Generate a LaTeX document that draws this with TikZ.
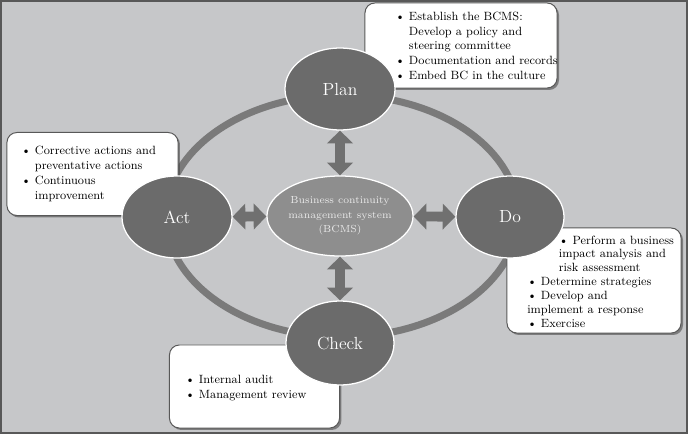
\documentclass[tikz,border=0pt]{standalone}
\usepackage{xcolor}
\usepackage{tikz}
\usetikzlibrary{shapes,arrows.meta,positioning,shadows}

\definecolor{bgGray}{HTML}{C6C7C9}
\definecolor{stageGray}{HTML}{6B6B6B}
\definecolor{hubGray}{HTML}{8E8E8E}
\definecolor{ringGray}{HTML}{7A7A7A}
\definecolor{linkGray}{HTML}{707070}
\definecolor{frameGray}{HTML}{585858}
\definecolor{hubText}{HTML}{EAEAEA}

\begin{document}
\begin{tikzpicture}[
    x=0.025cm, y=-0.025cm,
    stage/.style={ellipse, draw=white, line width=0.9pt, fill=stageGray, inner sep=0pt, minimum width=2.75cm, minimum height=2.05cm, text=white, font=\fontsize{12.5}{14}\selectfont},
    hub/.style={ellipse, draw=white, line width=0.9pt, fill=hubGray, inner sep=0pt, minimum width=2.75cm, minimum height=2.0cm, text=hubText, align=center, font=\fontsize{7.3}{10.3}\selectfont},
    notebox/.style={rectangle, draw=frameGray, line width=0.7pt, fill=white, rounded corners=7pt, drop shadow={shadow xshift=1.4pt, shadow yshift=-1.4pt, opacity=0.55, fill=black!75}},
    notetext/.style={anchor=west, inner sep=0pt, align=left, font=\fontsize{8.5}{10.6}\selectfont},
    link/.style={{Triangle[length=9pt,width=18pt]}-{Triangle[length=9pt,width=18pt]}, line width=7pt, draw=linkGray}
]
\useasboundingbox (0,0) rectangle (688,434);

% Background and frame
\fill[bgGray] (0,0) rectangle (688,434);
\draw[frameGray, line width=1.4pt] (1,1) rectangle (687,433);

% Cycle ring
\draw[ringGray, line width=5pt] (342,216) ellipse [x radius=4.4cm, y radius=3.025cm];

% Note boxes
\node[notebox, minimum width=4.8cm, minimum height=2.125cm] (planbox) at (461,45.5) {};
\node[notebox, minimum width=4.275cm, minimum height=2.075cm] (actbox) at (92.5,174) {};
\node[notebox, minimum width=4.35cm, minimum height=2.625cm] (dobox) at (594,280.5) {};
\node[notebox, minimum width=4.25cm, minimum height=2.075cm] (checkbox) at (254.5,386.5) {};

% Box texts
\node[notetext] (plantext) at (395,47) {\begin{tabular}{@{}l@{\ }l@{}}
\textbullet & Establish the BCMS:\\
 & Develop a policy and\\
 & steering committee\\
\textbullet & Documentation and records\\
\textbullet & Embed BC in the culture
\end{tabular}};
\node[notetext] (acttext) at (21,174) {\begin{tabular}{@{}l@{\ }l@{}}
\textbullet & Corrective actions and\\
 & preventative actions\\
\textbullet & Continuous\\
 & improvement
\end{tabular}};
\node[notetext, font=\fontsize{8.5}{9.9}\selectfont] (dotext) at (527,283) {\begin{tabular}{@{}l@{}}
\hspace*{22.5pt}\textbullet\ Perform a business\\
\hspace*{22.5pt}impact analysis and\\
\hspace*{22.5pt}risk assessment\\
\textbullet\ Determine strategies\\
\textbullet\ Develop and\\
implement a response\\
\textbullet\ Exercise
\end{tabular}};
\node[notetext] (checktext) at (185,388) {\begin{tabular}{@{}l@{\ }l@{}}
\textbullet & Internal audit\\
\textbullet & Management review
\end{tabular}};

% PDCA stages
\node[stage] (plan) at (340,89) {Plan};
\node[stage] (act) at (177,217) {Act};
\node[stage, minimum width=2.7cm] (do) at (510,217) {Do};
\node[stage, minimum width=2.7cm, minimum height=2.1cm] (check) at (340,343) {Check};
\node[hub] (bcms) at (340,216) {Business continuity\\management system\\(BCMS)};

% Double arrows to the hub
\draw[link] (plan) -- (bcms);
\draw[link] (act) -- (bcms);
\draw[link] (bcms) -- (do);
\draw[link] (bcms) -- (check);

\end{tikzpicture}
\end{document}
